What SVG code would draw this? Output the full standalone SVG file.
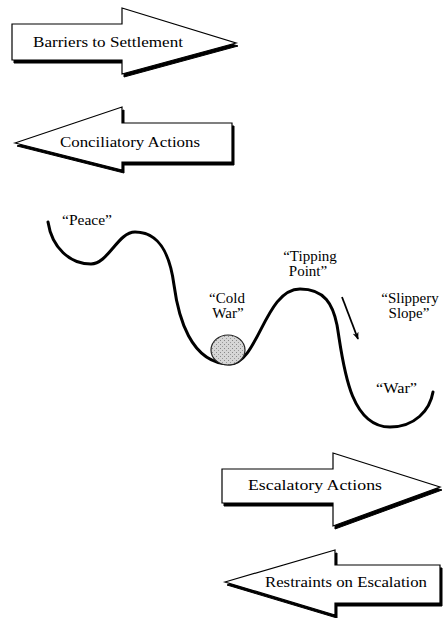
<svg xmlns="http://www.w3.org/2000/svg" width="445" height="618" viewBox="0 0 445 618">
<style>
.shadow{fill:#000;stroke:#000;stroke-width:1}
.arrow{fill:#fff;stroke:#000;stroke-width:1.2;stroke-linejoin:miter}
.lbl{font-family:"Liberation Serif","Times New Roman",serif;font-size:14px;fill:#000}
.tag{font-family:"Liberation Serif","Times New Roman",serif;font-size:15px;fill:#000}
.land{fill:none;stroke:#000;stroke-width:3;stroke-linecap:round}
</style>
<defs>
<pattern id="stip" width="4" height="4" patternUnits="userSpaceOnUse">
<rect width="4" height="4" fill="#d6d6d6"/>
<rect x="0" y="0" width="1" height="1" fill="#888"/>
<rect x="2" y="2" width="1" height="1" fill="#999"/>
</pattern>
<marker id="ah" viewBox="0 0 10 8" refX="9" refY="4" markerWidth="8" markerHeight="6" orient="auto" markerUnits="userSpaceOnUse">
<path d="M0,0 L10,4 L0,8 L3,4 Z" fill="#000"/>
</marker>
</defs>

<g id="barriers">
<polygon class="shadow" points="14,27 124,27 124,11 238,46 124,77 124,63 14,63"/>
<polygon class="arrow" points="12,24 122,24 122,8 236,43 122,74 122,60 12,60"/>
<text class="lbl" x="33" y="47" textLength="150" lengthAdjust="spacingAndGlyphs">Barriers to Settlement</text>
</g>

<g id="conciliatory">
<polygon class="shadow" points="17,146 124,110 124,126 234,126 234,165 124,165 124,173"/>
<polygon class="arrow" points="15,143 122,107 122,123 232,123 232,162 122,162 122,170"/>
<text class="lbl" x="60" y="147" textLength="140" lengthAdjust="spacingAndGlyphs">Conciliatory Actions</text>
</g>

<g id="landscape">
<path class="land" d="M48,222 C52,248 70,264 91,264 C108,264 118,232 135,232 C160,232 170,255 174,285 C178,315 190,364 230,364 C258,364 265,289 300,289 C325,289 333,305 337,325 C343,360 348,427 390,427 C415,427 430,410 433,392"/>
<ellipse id="ball" cx="228" cy="350" rx="17" ry="15" fill="url(#stip)" stroke="#222" stroke-width="1.2"/>
</g>

<g id="labels">
<text class="tag" x="62" y="225" textLength="50" lengthAdjust="spacingAndGlyphs">“Peace”</text>
<text class="tag" text-anchor="middle"><tspan x="227" y="303">“Cold</tspan><tspan x="228" y="318">War”</tspan></text>
<text class="tag" text-anchor="middle"><tspan x="310" y="261">“Tipping</tspan><tspan x="308" y="276">Point”</tspan></text>
<text class="tag" text-anchor="middle"><tspan x="410" y="303">“Slippery</tspan><tspan x="409" y="318">Slope”</tspan></text>
<text class="tag" x="376" y="393" textLength="41" lengthAdjust="spacingAndGlyphs">“War”</text>
</g>

<g id="connectors">
<line x1="342" y1="297" x2="358" y2="339" stroke="#000" stroke-width="1.8" marker-end="url(#ah)"/>
</g>

<g id="escalatory">
<polygon class="shadow" points="224,472 335,472 335,456 442,490 335,529 335,506 224,506"/>
<polygon class="arrow" points="222,469 333,469 333,453 440,487 333,526 333,503 222,503"/>
<text class="lbl" x="248" y="490" textLength="134" lengthAdjust="spacingAndGlyphs">Escalatory Actions</text>
</g>

<g id="restraints">
<polygon class="shadow" points="227,585 337,553 337,568 442,568 442,606 337,606 337,618"/>
<polygon class="arrow" points="225,582 335,550 335,565 440,565 440,603 335,603 335,615"/>
<text class="lbl" x="265" y="587" textLength="162" lengthAdjust="spacingAndGlyphs">Restraints on Escalation</text>
</g>
</svg>
